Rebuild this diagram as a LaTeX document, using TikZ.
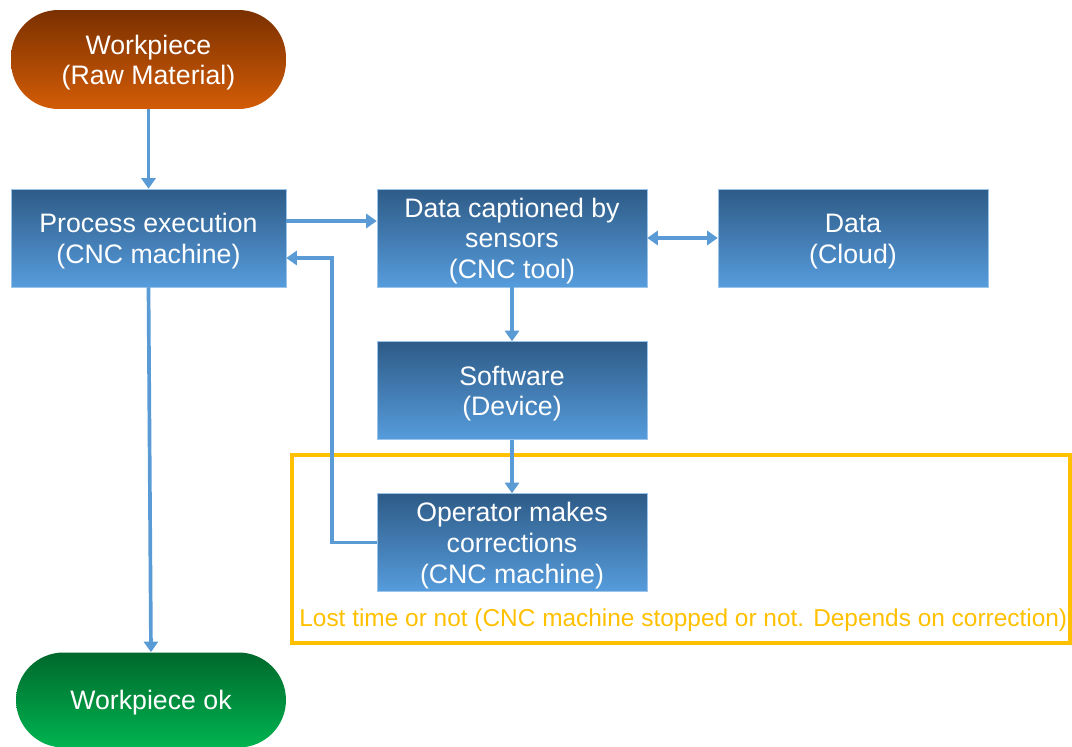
\documentclass[tikz,border=0pt]{standalone}
\usepackage{fontspec}
\setmainfont{Liberation Sans}
\usetikzlibrary{arrows.meta,calc}

\definecolor{boxtop}{HTML}{2E5B87}
\definecolor{boxbot}{HTML}{569CDC}
\definecolor{rawtop}{HTML}{7A3000}
\definecolor{rawbot}{HTML}{D35C06}
\definecolor{oktop}{HTML}{00682C}
\definecolor{okbot}{HTML}{00B450}
\definecolor{flow}{HTML}{5B9BD5}
\definecolor{lost}{HTML}{FFC000}

% extra room above the first line of a box label
\newcommand{\firstline}{\rule{0pt}{14.5pt}}

\tikzset{
  basebox/.style={inner sep=0pt, text=white, align=center,
    font=\fontsize{15.2pt}{17.6pt}\selectfont},
  stepbox/.style={basebox, rectangle, minimum width=5.4cm, minimum height=1.96cm,
    top color=boxtop, bottom color=boxbot, draw=boxbot!60!white, line width=0.3pt},
  rawbox/.style={basebox, rectangle, rounded corners=0.95cm, minimum width=5.5cm,
    minimum height=1.98cm, top color=rawtop, bottom color=rawbot},
  okbox/.style={basebox, rectangle, rounded corners=0.95cm, minimum width=5.4cm,
    minimum height=1.9cm, top color=oktop, bottom color=okbot},
  flowline/.style={draw=flow, line width=2.1pt, -{Triangle[width=8pt,length=6pt]}},
}

\begin{document}
\begin{tikzpicture}[x=0.02cm, y=-0.02cm]
  \useasboundingbox (0,0) rectangle (1072,747);

  % Flow nodes
  \node[rawbox]  (raw)   at (148.5,59.5)  {\firstline Workpiece\\(Raw Material)};
  \node[stepbox, minimum width=5.5cm] (proc) at (148.5,238)
    {\firstline Process execution\\(CNC machine)};
  \node[stepbox] (cap)   at (512,238)     {\firstline Data captioned by\\sensors\\(CNC tool)};
  \node[stepbox] (cloud) at (853,238)     {\firstline Data\\(Cloud)};
  \node[stepbox] (soft)  at (512,390.5)   {\firstline Software\\(Device)};
  \node[stepbox] (oper)  at (512,542.5)   {\firstline Operator makes\\corrections\\(CNC machine)};
  \node[okbox]   (ok)    at (151,700)     {\firstline Workpiece ok};

  % Frame around the correction step
  \draw[draw=lost, line width=2.1pt] (292,455) rectangle (1070,643);
  \node[anchor=west, inner sep=0pt, text=lost,
        font=\fontsize{13.9pt}{16pt}\selectfont] (losttxt) at (299,620)
    {Lost time or not (CNC machine stopped or not. Depends on correction)};

  % Connectors
  \draw[flowline] (raw.south) -- (proc.north);
  \draw[flowline] ([yshift=0.34cm]proc.east) -- ([yshift=0.34cm]proc.east -| cap.west);
  \draw[draw=flow, line width=2.1pt,
        {Triangle[width=8pt,length=6pt]}-{Triangle[width=8pt,length=6pt]}]
    (cap.east) -- (cloud.west);
  \draw[flowline] (cap.south) -- (soft.north);
  \draw[flowline] (soft.south) -- (oper.north);
  \draw[flowline] (oper.west) -- ++(-45,0) |- ([yshift=-0.4cm]proc.east);
  \draw[flowline] (proc.south) -- (ok.north);
\end{tikzpicture}
\end{document}
